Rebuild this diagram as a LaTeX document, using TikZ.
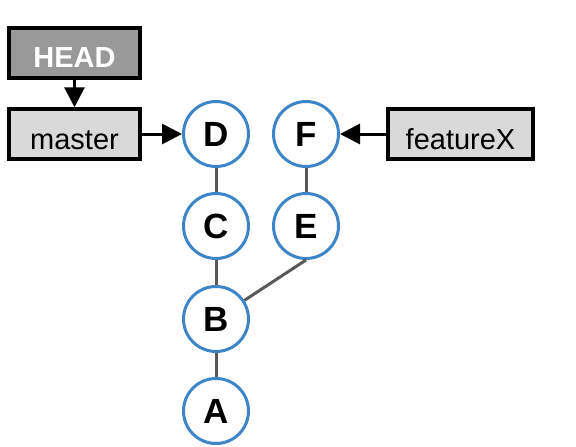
\documentclass[tikz,border=0pt]{standalone}
\usepackage{fontspec}
\setmainfont{Liberation Sans}
\usetikzlibrary{arrows.meta}
\definecolor{cblue}{HTML}{3D85C6}
\definecolor{edgegray}{HTML}{595959}
\definecolor{headfill}{HTML}{999999}
\definecolor{reffill}{HTML}{D9D9D9}
\begin{document}
\begin{tikzpicture}[x=1pt,y=-1pt,
  commit/.style={circle,draw=cblue,line width=3pt,fill=white,minimum size=65pt,inner sep=0pt,font=\fontsize{35}{35}\selectfont\bfseries},
  refbox/.style={rectangle,draw=black,line width=3.5pt,fill=reffill,minimum height=50pt,inner sep=0pt,text height=31pt,text depth=0pt,font=\fontsize{29}{29}\selectfont},
  headbox/.style={refbox,fill=headfill,text=white,text height=28pt,font=\fontsize{29}{29}\selectfont\bfseries},
  parent/.style={draw=edgegray,line width=3pt},
  pointer/.style={draw=black,line width=3pt,-{Triangle[length=20pt,width=20pt]}}]
\useasboundingbox (0,0) rectangle (576,447);
\node[headbox,minimum width=131pt] (head) at (74.5,53) {HEAD};
\node[refbox,minimum width=131pt] (master) at (74.5,134) {master};
\node[refbox,minimum width=145pt] (feat) at (460.5,134) {featureX};
\node[commit] (D) at (216,134) {D};
\node[commit] (C) at (216,226) {C};
\node[commit] (B) at (216,319) {B};
\node[commit] (A) at (216,411) {A};
\node[commit] (F) at (306,134) {F};
\node[commit] (E) at (306,226) {E};
\draw[parent] (D) -- (C);
\draw[parent] (C) -- (B);
\draw[parent] (B) -- (A);
\draw[parent] (F) -- (E);
\draw[parent] (B) -- (E.south);
\draw[pointer] (head) -- (master);
\draw[pointer] (master) -- (D);
\draw[pointer] (feat) -- (F);
\end{tikzpicture}
\end{document}
